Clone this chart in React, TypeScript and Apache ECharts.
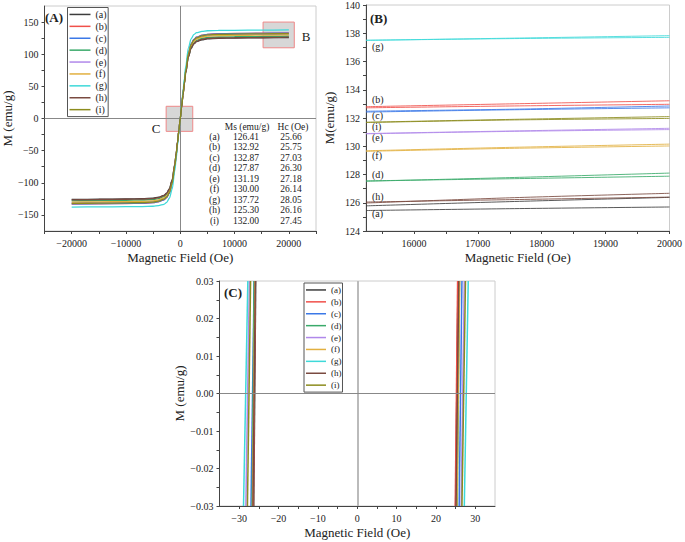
import React, { useEffect, useRef } from 'react';
import * as echarts from 'echarts';

const FONT = 'Liberation Serif';

const SAMPLES = ['(a)', '(b)', '(c)', '(d)', '(e)', '(f)', '(g)', '(h)', '(i)'];
const COLORS = ['#3c3c3c', '#f0504a', '#3b78e7', '#3aaa6a', '#b088ea', '#e2b040', '#3ed9d9', '#7a4a40', '#8c8c1e'];
const MS_VALUES = [126.41, 132.92, 132.87, 127.87, 131.19, 130.0, 137.72, 125.3, 132.0];
const HC_VALUES = [25.66, 25.75, 27.03, 26.3, 27.18, 26.14, 28.05, 26.16, 27.45];

// Panel (A): positive half of each loop (the loop is symmetric through the origin)
const FIELD_A = [0, 250, 500, 750, 1000, 1500, 2000, 2500, 3000, 4000, 5000, 7000, 10000, 15000, 20000];
const M_A_a = [0, 18, 36, 54, 71, 96, 109, 116, 119.5, 122.5, 124, 124.8, 125.2, 125.6, 126.0];
const M_A_b = [0, 19, 38, 57, 75, 102, 116, 123, 126.5, 129.5, 131, 131.9, 132.3, 132.8, 133.1];
const M_A_c = [0, 19, 38, 57, 75, 102, 116, 123, 126.5, 129.3, 130.8, 131.7, 132.1, 132.5, 132.8];
const M_A_d = [0, 18, 37, 55, 72, 97, 111, 118, 121.5, 124.5, 126, 126.8, 127.2, 127.55, 128.0];
const M_A_e = [0, 19, 37, 56, 74, 100, 114, 121, 124.5, 127.5, 129.2, 130, 130.5, 130.9, 131.2];
const M_A_f = [0, 18, 37, 55, 73, 99, 113, 120, 123.5, 126.5, 128, 128.9, 129.3, 129.7, 130.1];
const M_A_g = [0, 21, 42, 62, 81, 110, 124, 130.5, 133.5, 135.5, 136.5, 137, 137.2, 137.5, 137.8];
const M_A_h = [0, 18, 36, 54, 71, 96, 110, 116.5, 120, 123, 124.5, 125.2, 125.6, 126.0, 126.5];
const M_A_i = [0, 19, 38, 56, 74, 101, 115, 122, 125.5, 128.5, 130, 130.8, 131.3, 131.7, 132.1];
const M_A = [M_A_a, M_A_b, M_A_c, M_A_d, M_A_e, M_A_f, M_A_g, M_A_h, M_A_i];

// Panel (B): two branches per sample near saturation
const FIELD_B = [15250, 17500, 20000];
const B1_a = [125.78, 126.08, 126.38];
const B2_a = [125.45, 125.58, 125.7];
const B1_b = [132.8, 133.0, 133.22];
const B2_b = [132.72, 132.85, 132.97];
const B1_c = [132.48, 132.62, 132.85];
const B2_c = [132.42, 132.58, 132.72];
const B1_d = [127.52, 127.78, 128.1];
const B2_d = [127.55, 127.7, 127.88];
const B1_e = [130.9, 131.08, 131.27];
const B2_e = [130.88, 131.05, 131.18];
const B1_f = [129.68, 129.92, 130.15];
const B2_f = [129.64, 129.85, 130.02];
const B1_g = [137.5, 137.65, 137.83];
const B2_g = [137.5, 137.62, 137.71];
const B1_h = [125.98, 126.35, 126.67];
const B2_h = [126.05, 126.22, 126.4];
const B1_i = [131.7, 131.9, 132.1];
const B2_i = [131.68, 131.86, 131.97];
const B1 = [B1_a, B1_b, B1_c, B1_d, B1_e, B1_f, B1_g, B1_h, B1_i];
const B2 = [B2_a, B2_b, B2_c, B2_d, B2_e, B2_f, B2_g, B2_h, B2_i];
const B_LABEL_ORDER = ['(g)', '(b)', '(c)', '(i)', '(e)', '(f)', '(d)', '(h)', '(a)'];

// Panel (C): field (Oe) where each branch crosses the bottom (-0.03) and top (+0.03) of the window
const M_C = [-0.03, 0.03];
const C_LEFT_BOTTOM = [-26.3, -26.4, -27.0, -26.7, -28.3, -26.6, -28.9, -26.5, -27.9];
const C_LEFT_TOP = [-25.8, -25.9, -26.2, -26.2, -27.4, -26.0, -27.8, -25.9, -27.1];
const C_RIGHT_BOTTOM = [25.0, 24.9, 25.9, 25.4, 26.4, 25.3, 27.2, 25.1, 26.6];
const C_RIGHT_TOP = [25.6, 25.5, 26.6, 26.0, 27.2, 26.0, 28.2, 25.8, 27.5];

// Ticks
const A_X_TICKS = [-25000, -20000, -15000, -10000, -5000, 0, 5000, 10000, 15000, 20000, 25000];
const A_X_LABELS = [-20000, -10000, 0, 10000, 20000];
const A_Y_TICKS = [-150, -125, -100, -75, -50, -25, 0, 25, 50, 75, 100, 125, 150];
const A_Y_LABELS = [-150, -100, -50, 0, 50, 100, 150];
const B_X_TICKS = [15500, 16000, 16500, 17000, 17500, 18000, 18500, 19000, 19500, 20000];
const B_X_LABELS = [16000, 17000, 18000, 19000, 20000];
const B_Y_TICKS = [124, 125, 126, 127, 128, 129, 130, 131, 132, 133, 134, 135, 136, 137, 138, 139, 140];
const B_Y_LABELS = [124, 126, 128, 130, 132, 134, 136, 138, 140];
const C_X_TICKS = [-30, -25, -20, -15, -10, -5, 0, 5, 10, 15, 20, 25, 30];
const C_X_LABELS = [-30, -20, -10, 0, 10, 20, 30];
const C_Y_TICKS = [-0.03, -0.025, -0.02, -0.015, -0.01, -0.005, 0, 0.005, 0.01, 0.015, 0.02, 0.025, 0.03];
const C_Y_LABELS = [-0.03, -0.02, -0.01, 0, 0.01, 0.02, 0.03];

const minus = (s: string) => s.replace('-', '\u2212');

function axis(
  gridIndex: number,
  min: number,
  max: number,
  ticks: number[],
  labels: number[],
  name: string,
  nameGap: number,
  fmt: (v: number) => string,
  isY: boolean
) {
  return {
    type: 'value',
    gridIndex,
    min,
    max,
    name,
    nameLocation: 'middle',
    nameGap,
    nameTextStyle: { fontFamily: FONT, fontSize: 13, color: '#222' },
    axisLine: { show: true, onZero: false, lineStyle: { color: '#444', width: 1 } },
    axisTick: { show: true, inside: false, length: 3, customValues: ticks, lineStyle: { color: '#444' } },
    axisLabel: {
      show: true,
      customValues: labels,
      fontFamily: FONT,
      fontSize: 10,
      color: '#222',
      margin: isY ? 6 : 7,
      formatter: (v: number) => minus(fmt(v)),
    },
    splitLine: { show: false },
  };
}

export default function App() {
  const ref = useRef<HTMLDivElement>(null);

  useEffect(() => {
    if (!ref.current) return;
    const chart = echarts.init(ref.current, undefined, { renderer: 'svg' });

    const series: any[] = [];

    SAMPLES.forEach((name, k) => {
      const pos = FIELD_A.map((h, i) => [h, M_A[k][i]]);
      const neg = FIELD_A.slice(1).map((h, i) => [-h, -M_A[k][i + 1]]).reverse();
      const s: any = {
        type: 'line',
        name,
        xAxisIndex: 0,
        yAxisIndex: 0,
        data: [...neg, ...pos],
        symbol: 'none',
        smooth: 0.3,
        smoothMonotone: 'x',
        lineStyle: { width: 1.3, color: COLORS[k] },
        itemStyle: { color: COLORS[k] },
        z: 3,
      };
      if (k === 0) {
        s.markLine = {
          silent: true,
          symbol: ['none', 'none'],
          label: { show: false },
          lineStyle: { color: '#888', width: 1, type: 'solid' },
          data: [{ xAxis: 0 }, { yAxis: 0 }],
          z: 1,
        };
        s.markArea = {
          silent: true,
          itemStyle: { color: 'rgba(150,150,150,0.38)', borderColor: '#ee8888', borderWidth: 1 },
          data: [
            [{ coord: [15250, 110] }, { coord: [21000, 150] }],
            [{ coord: [-2600, -20] }, { coord: [2300, 19] }],
          ],
        };
      }
      series.push(s);
    });

    SAMPLES.forEach((name, k) => {
      [B1[k], B2[k]].forEach((arr) => {
        series.push({
          type: 'line',
          name,
          xAxisIndex: 1,
          yAxisIndex: 1,
          data: FIELD_B.map((h, i) => [h, arr[i]]),
          symbol: 'none',
          smooth: 0.3,
          lineStyle: { width: 1, color: COLORS[k], opacity: 0.85 },
          itemStyle: { color: COLORS[k] },
        });
      });
    });

    SAMPLES.forEach((name, k) => {
      const left = [
        [C_LEFT_BOTTOM[k], M_C[0]],
        [C_LEFT_TOP[k], M_C[1]],
      ];
      const right = [
        [C_RIGHT_BOTTOM[k], M_C[0]],
        [C_RIGHT_TOP[k], M_C[1]],
      ];
      [left, right].forEach((data, j) => {
        const s: any = {
          type: 'line',
          name,
          xAxisIndex: 2,
          yAxisIndex: 2,
          data,
          symbol: 'none',
          lineStyle: { width: 1.5, color: COLORS[k] },
          itemStyle: { color: COLORS[k] },
          z: 3,
        };
        if (k === 0 && j === 0) {
          s.markLine = {
            silent: true,
            symbol: ['none', 'none'],
            label: { show: false },
            data: [
              { xAxis: 0, lineStyle: { color: '#bbb', width: 2, type: 'solid' } },
              { yAxis: 0, lineStyle: { color: '#888', width: 1, type: 'solid' } },
            ],
          };
        }
        series.push(s);
      });
    });

    const graphic: any[] = [];
    const txt = (text: string, x: number, y: number, size: number, align = 'center', bold = false) => ({
      type: 'text',
      x,
      y,
      silent: true,
      z: 10,
      style: {
        text,
        fill: '#222',
        fontFamily: FONT,
        fontSize: size,
        fontWeight: bold ? 'bold' : 'normal',
        align,
        verticalAlign: 'middle',
        textAlign: align,
        textVerticalAlign: 'middle',
      },
    });
    graphic.push(txt('(A)', 45, 17, 13, 'left', true));
    graphic.push(txt('(B)', 370, 18, 13, 'left', true));
    graphic.push(txt('(C)', 224, 292, 13, 'left', true));
    graphic.push(txt('B', 306, 36, 13));
    graphic.push(txt('C', 156, 128.5, 13));
    graphic.push(txt('Ms (emu/g)', 247, 126.7, 9.5));
    graphic.push(txt('Hc (Oe)', 293, 126.7, 9.5));
    SAMPLES.forEach((s, i) => {
      const y = 136.7 + i * 10.5;
      graphic.push(txt(s, 214.5, y, 9.5));
      graphic.push(txt(MS_VALUES[i].toFixed(2), 246, y, 9.5));
      graphic.push(txt(HC_VALUES[i].toFixed(2), 291, y, 9.5));
    });
    const bLabelY = [46.7, 99, 115.7, 126.7, 137.3, 155, 174, 196.7, 213.3];
    B_LABEL_ORDER.forEach((s, i) => {
      graphic.push(txt(s, 372, bLabelY[i], 10, 'left'));
    });

    const legendBase = {
      orient: 'vertical',
      icon: 'rect',
      itemGap: 0,
      borderColor: '#555',
      borderWidth: 1,
      backgroundColor: '#fff',
      data: SAMPLES,
      selectedMode: false,
    };

    chart.setOption({
      animation: false,
      backgroundColor: '#fff',
      textStyle: { fontFamily: FONT },
      grid: [
        { left: 40, top: 6, width: 276, height: 225, show: true, borderColor: '#ccc', borderWidth: 1 },
        { left: 366, top: 5, width: 305, height: 226, show: true, borderColor: '#ccc', borderWidth: 1 },
        { left: 219.5, top: 281, width: 275.5, height: 225, show: true, borderColor: '#ccc', borderWidth: 1 },
      ],
      xAxis: [
        axis(0, -25000, 25000, A_X_TICKS, A_X_LABELS, 'Magnetic Field (Oe)', 20, (v) => String(v), false),
        axis(1, 15250, 20000, B_X_TICKS, B_X_LABELS, 'Magnetic Field (Oe)', 20, (v) => String(v), false),
        axis(2, -35, 35, C_X_TICKS, C_X_LABELS, 'Magnetic Field (Oe)', 20, (v) => String(v), false),
      ],
      yAxis: [
        axis(0, -175, 175, A_Y_TICKS, A_Y_LABELS, 'M (emu/g)', 29, (v) => String(v), true),
        axis(1, 124, 140, B_Y_TICKS, B_Y_LABELS, 'M(emu/g)', 30, (v) => String(v), true),
        axis(2, -0.03, 0.03, C_Y_TICKS, C_Y_LABELS, 'M (emu/g)', 30, (v) => v.toFixed(2), true),
      ],
      legend: [
        {
          ...legendBase,
          left: 67.5,
          top: 7.5,
          padding: [1, 1, 1, 2],
          itemWidth: 21,
          itemHeight: 1.5,
          textStyle: { fontFamily: FONT, fontSize: 10, lineHeight: 11.9, color: '#222' },
        },
        {
          ...legendBase,
          left: 304,
          top: 283,
          padding: [1, 1, 1, 2],
          itemWidth: 20,
          itemHeight: 1.5,
          textStyle: { fontFamily: FONT, fontSize: 9, lineHeight: 11.9, color: '#222' },
        },
      ],
      graphic,
      series,
    });

    return () => chart.dispose();
  }, []);

  return <div ref={ref} style={{ position: 'absolute', left: 0, top: 0, width: 685, height: 542 }} />;
}
